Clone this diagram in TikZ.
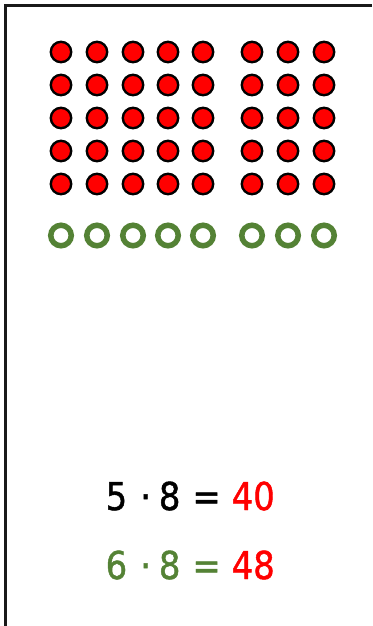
\documentclass[tikz,border=0pt]{standalone}
\usepackage{fontspec}
\setmainfont{DejaVu Sans}
\newfontfamily\eqfont[FakeStretch=0.88,FakeBold=1.2]{DejaVu Sans}
\definecolor{dotgreen}{RGB}{84,130,53}
\definecolor{dotred}{RGB}{255,0,0}
\tikzset{
  reddot/.style={circle,draw=black,fill=dotred,line width=2.4pt,minimum size=20.4pt,inner sep=0pt},
  greenring/.style={circle,draw=dotgreen,line width=5.5pt,minimum size=20.5pt,inner sep=0pt},
  eqtext/.style={font=\eqfont\fontsize{38.4}{40}\selectfont,anchor=base west,inner sep=0pt},
  framestyle/.style={line width=2.6pt,draw=black!90}
}
\newcommand{\eqline}[4]{#1\hspace{13pt}·\hspace{8pt}#2\hspace{12pt}=\hspace{11pt}\textcolor{dotred}{#3#4}}
\begin{document}
\begin{tikzpicture}[x=1pt,y=-1pt]
\useasboundingbox (0,0) rectangle (372,626);
\coordinate (ftop) at (372,5.5);
\coordinate (fcorner) at (5.5,5.5);
\coordinate (fbot) at (5.5,626);
\draw[framestyle] (ftop) -- (fcorner) -- (fbot);
\foreach \c [count=\i] in {61,97,133,168,203,252,288,324}{
  \foreach \r [count=\j] in {52,85,118,151,184}{
    \node[reddot] (r\j c\i) at (\c,\r) {};
  }
  \node[greenring] (g\i) at (\c,235.5) {};
}
\node[eqtext] (eq1) at (105.5,510) {\eqline{5}{8}{4}{0}};
\node[eqtext,text=dotgreen] (eq2) at (105.5,579) {\eqline{6}{8}{4}{8}};
\end{tikzpicture}
\end{document}
